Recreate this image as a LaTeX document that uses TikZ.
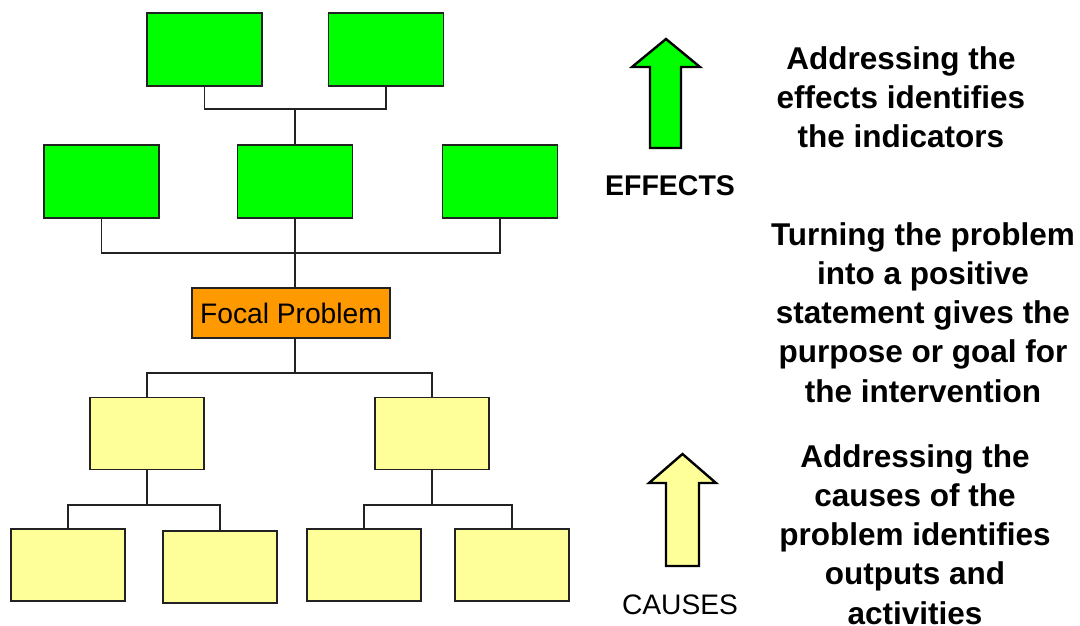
\documentclass[tikz,border=0pt]{standalone}
\usepackage{fontspec}
\setmainfont{Liberation Sans}
\definecolor{effgreen}{HTML}{00FF00}
\definecolor{causeyellow}{HTML}{FFFF99}
\definecolor{focalorange}{HTML}{FF9900}
\definecolor{linegray}{HTML}{222222}
\begin{document}
\begin{tikzpicture}[x=1pt,y=-1pt,
  box/.style={draw=linegray,line width=1.4pt,minimum width=115pt,minimum height=73pt,inner sep=0pt,outer sep=0pt},
  effbox/.style={box,fill=effgreen},
  causebox/.style={box,fill=causeyellow,minimum width=114pt,minimum height=72pt},
  conn/.style={draw=linegray,line width=1.3pt},
  bigarrow/.style={draw=black,line width=2.4pt,line join=miter},
  sidetext/.style={align=center,inner sep=0pt,anchor=north,font=\fontsize{31.5}{39.3}\selectfont\bfseries}
]
\useasboundingbox (0,0) rectangle (1080,625);

% effects
\node[effbox] (g1) at (204.5,49.5) {};
\node[effbox] (g2) at (386,49.5) {};
\node[effbox] (gA) at (101.5,181.5) {};
\node[effbox] (gB) at (295,181.5) {};
\node[effbox] (gC) at (500,181.5) {};

% focal
\node[draw=linegray,line width=1.4pt,fill=focalorange,minimum width=198pt,minimum height=50pt,inner sep=0pt,font=\fontsize{28.2}{30}\selectfont] (fp) at (291,313) {Focal Problem};

% causes
\node[causebox] (yA) at (147,433.5) {};
\node[causebox] (yB) at (432,433.5) {};
\node[causebox] (b1) at (68,565) {};
\node[causebox] (b2) at (220,567) {};
\node[causebox] (b3) at (364,565) {};
\node[causebox] (b4) at (512,565) {};

% junctions
\coordinate (j1) at (295,109);
\coordinate (j2) at (295,253);
\coordinate (j3) at (295,373);
\coordinate (j4) at (147,505);
\coordinate (j5) at (432,505);

\draw[conn] (g1.south) |- (j1) -| (g2.south);
\draw[conn] (j1) -- (gB.north);
\draw[conn] (gA.south) |- (j2) -| (gC.south);
\draw[conn] (gB.south) -- (j2) -- (j2 |- fp.north);
\draw[conn] (j3 |- fp.south) -- (j3);
\draw[conn] (yA.north) |- (j3) -| (yB.north);
\draw[conn] (yA.south) -- (j4);
\draw[conn] (b1.north) |- (j4) -| (b2.north);
\draw[conn] (yB.south) -- (j5);
\draw[conn] (b3.north) |- (j5) -| (b4.north);

% arrows
\draw[bigarrow,fill=effgreen] (666,39) -- (700,67) -- (681,67) -- (681,148) -- (650,148) -- (650,67) -- (632,67) -- cycle;
\draw[bigarrow,fill=causeyellow] (682.5,454) -- (716,483) -- (699,483) -- (699,566) -- (666,566) -- (666,483) -- (649,483) -- cycle;

\node[anchor=base,inner sep=0pt,font=\fontsize{28.5}{30}\selectfont\bfseries] (eff) at (670,195) {EFFECTS};
\node[anchor=base,inner sep=0pt,font=\fontsize{28.2}{30}\selectfont] (cau) at (680,614) {CAUSES};

\node[sidetext] (t1) at (901,46) {Addressing the\\effects identifies\\the indicators};
\node[sidetext] (t2) at (923,222) {Turning the problem\\into a positive\\statement gives the\\purpose or goal for\\the intervention};
\node[sidetext] (t3) at (915,444) {Addressing the\\causes of the\\problem identifies\\outputs and\\activities};
\end{tikzpicture}
\end{document}
